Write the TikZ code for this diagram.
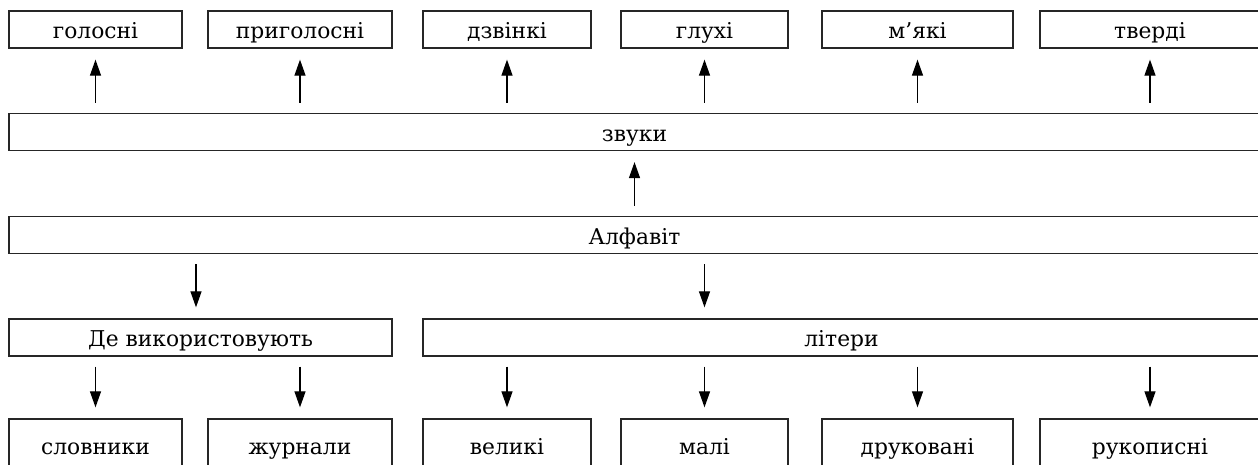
\documentclass[tikz,border=0pt]{standalone}
\usepackage{fontspec}
\setmainfont{DejaVu Serif}
\usetikzlibrary{arrows.meta}

\begin{document}
\begin{tikzpicture}[x=0.02cm, y=-0.02cm,
		box/.style={draw=black!85, line width=0.75pt, inner sep=0pt, minimum height=0.74cm, text height=0.44cm, text depth=0.06cm, text=black, font=\fontsize{12.4}{14}\selectfont},
		low/.style={box, minimum height=1.04cm},
		arr/.style={-{Triangle[length=0.32cm, width=0.22cm]}, line width=0.7pt, shorten <=0.2cm, shorten >=0.22cm}]
		\useasboundingbox (0, 0) rectangle (1258, 465);
		\clip (0, 0) rectangle (1258, 465);
		% top row
		\node [box, minimum width=3.46cm] (hol) at (95.5, 29.5) {голосні};
		\node [box, minimum width=3.68cm] (prh) at (300, 29.5) {приголосні};
		\node [box, minimum width=3.36cm] (dzv) at (507, 29.5) {дзвінкі};
		\node [box, minimum width=3.34cm] (hlu) at (704.5, 29.5) {глухі};
		\node [box, minimum width=3.82cm] (mya) at (917.5, 29.5) {м’які};
		\node [box, minimum width=4.4cm] (tve) at (1150, 29.5) {тверді};
		% wide rows
		\node [box, minimum width=25.02cm] (zvu) at (634.5, 132) {звуки};
		\node [box, minimum width=25.02cm] (alf) at (634.5, 235) {Алфавіт};
		\node [box, minimum width=7.66cm] (de) at (200.5, 337.5) {Де використовують};
		\node [box, minimum width=16.74cm] (lit) at (841.5, 337.5) {літери};
		% bottom row
		\node [low, minimum width=3.46cm] (slo) at (95.5, 445) {словники};
		\node [low, minimum width=3.68cm] (zhu) at (300, 445) {журнали};
		\node [low, minimum width=3.36cm] (vel) at (507, 445) {великі};
		\node [low, minimum width=3.34cm] (mal) at (704.5, 445) {малі};
		\node [low, minimum width=3.82cm] (dru) at (917.5, 445) {друковані};
		\node [low, minimum width=4.4cm] (ruk) at (1150, 445) {рукописні};
		% arrows
		\foreach \n in {hol, prh, dzv, hlu, mya, tve}
			\draw [arr] (zvu.north -| \n.south) -- (\n.south);
		\draw [arr] (alf.north) -- (zvu.south);
		\draw [arr] ([xshift=-0.09cm]alf.south -| de.north) -- ([xshift=-0.09cm]de.north);
		\draw [arr] (alf.south -| mal.north) -- (lit.north -| mal.north);
		\foreach \n in {slo, zhu}
			\draw [arr] (de.south -| \n.north) -- (\n.north);
		\foreach \n in {vel, mal, dru, ruk}
			\draw [arr] (lit.south -| \n.north) -- (\n.north);
	\end{tikzpicture}
\end{document}
